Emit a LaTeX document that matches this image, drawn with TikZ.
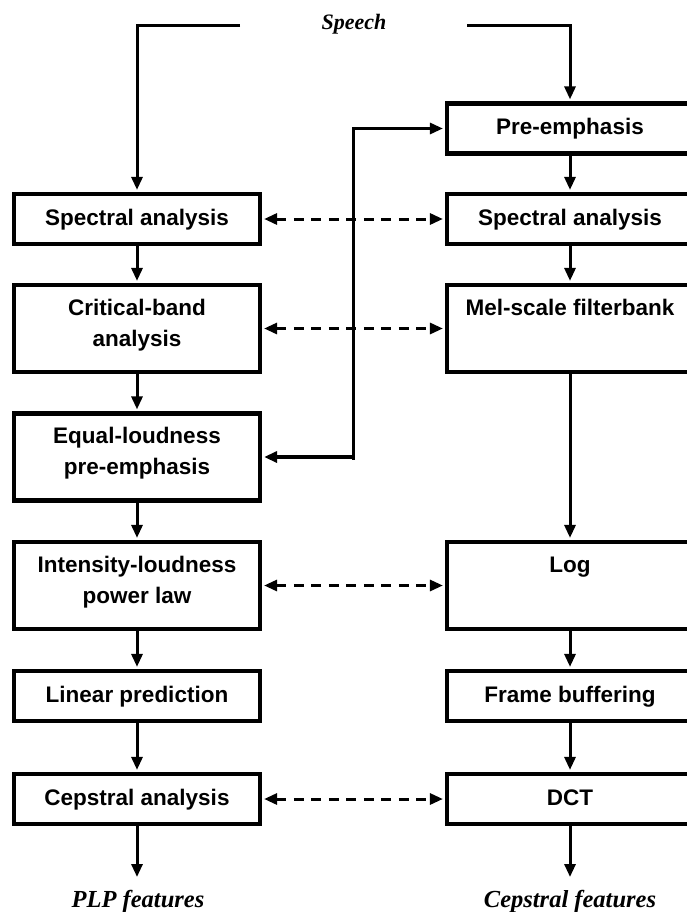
\documentclass[tikz,border=0pt]{standalone}
\usepackage{fontspec}
\setmainfont{Liberation Sans}
\newfontfamily\labelfont{Liberation Serif}
\usetikzlibrary{arrows.meta}
\newcommand{\boxtxt}[1]{\begin{tabular}[t]{@{}c@{}}#1\end{tabular}}
\begin{document}
\begin{tikzpicture}[x=1pt,y=-1pt,
  tip/.tip={Triangle[length=13pt,width=11pt]},
  box/.style={draw, line width=4.2pt, minimum width=246pt, minimum height=50pt, inner sep=0pt,
    font=\bfseries\fontsize{22.5}{31}\selectfont},
  tallbox/.style={box, minimum height=87pt, text depth=48.7pt},
  conn/.style={line width=3pt, -tip, shorten >=2pt},
  dasharrow/.style={line width=3pt, dash pattern=on 10pt off 7.5pt, tip-tip, shorten >=2pt, shorten <=2pt},
  lbl/.style={font=\labelfont\bfseries\itshape\fontsize{24.5}{29}\selectfont, inner sep=0pt, anchor=base},
  toplbl/.style={lbl, font=\labelfont\bfseries\itshape\fontsize{22}{26}\selectfont}]
\useasboundingbox (0,0) rectangle (686,912);

% right column
\node[box] (rp) at (570,128.5) {\boxtxt{Pre-emphasis}};
\node[box] (rs) at (570,219) {\boxtxt{Spectral analysis}};
\node[tallbox] (rm) at (570,328.5) {\boxtxt{Mel-scale filterbank}};
\node[tallbox] (rl) at (570,585.5) {\boxtxt{Log}};
\node[box] (rf) at (570,696) {\boxtxt{Frame buffering}};
\node[box] (rd) at (570,799) {\boxtxt{DCT}};

% left column
\node[box] (ls) at (137,219) {\boxtxt{Spectral analysis}};
\node[tallbox] (lc) at (137,328.5) {\boxtxt{Critical-band\\analysis}};
\node[tallbox] (le) at (137,457) {\boxtxt{Equal-loudness\\pre-emphasis}};
\node[tallbox] (li) at (137,585.5) {\boxtxt{Intensity-loudness\\power law}};
\node[box] (ll) at (137,696) {\boxtxt{Linear prediction}};
\node[box] (lcep) at (137,799) {\boxtxt{Cepstral analysis}};

% labels
\node[toplbl] (speech) at (354,30) {Speech};
\node[lbl] (plp) at (138,907) {PLP features};
\node[lbl] (cepf) at (570,907) {Cepstral features};

% speech input
\coordinate (sl) at (240,26);
\coordinate (sr) at (467,26);
\draw[conn] (sl) -| (ls.north);
\draw[conn] (sr) -| (rp.north);

% right chain
\draw[conn] (rp.south) -- (rs.north);
\draw[conn] (rs.south) -- (rm.north);
\draw[conn] (rm.south) -- (rl.north);
\draw[conn] (rl.south) -- (rf.north);
\draw[conn] (rf.south) -- (rd.north);

% left chain
\draw[conn] (ls.south) -- (lc.north);
\draw[conn] (lc.south) -- (le.north);
\draw[conn] (le.south) -- (li.north);
\draw[conn] (li.south) -- (ll.north);
\draw[conn] (ll.south) -- (lcep.north);

% outputs
\coordinate (plpend) at (137,877);
\coordinate (cepend) at (570,877);
\draw[conn, shorten >=0pt] (lcep.south) -- (plpend);
\draw[conn, shorten >=0pt] (rd.south) -- (cepend);

% feedback pre-emphasis
\coordinate (fb) at (353,457);
\coordinate (fbv) at (353,459.5);
\draw[line width=4.8pt, tip-, shorten <=2pt] (le.east) -- (fb);
\draw[conn] (fbv) |- (rp.west);

% dashed correspondences
\draw[dasharrow] (ls.east) -- (rs.west);
\draw[dasharrow] (lc.east) -- (rm.west);
\draw[dasharrow] (li.east) -- (rl.west);
\draw[dasharrow] (lcep.east) -- (rd.west);
\end{tikzpicture}
\end{document}
